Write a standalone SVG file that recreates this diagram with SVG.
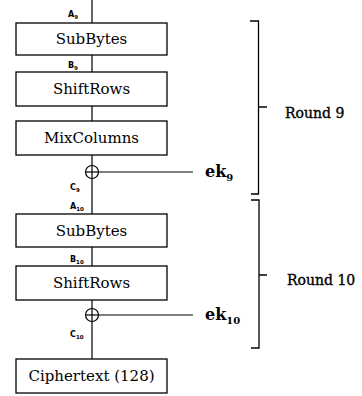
<svg xmlns="http://www.w3.org/2000/svg" width="362" height="396" viewBox="0 0 362 396">
  <style>
    .box { fill: #fff; stroke: #000; stroke-width: 1.3; }
    .lbl { font-family: "DejaVu Serif", "Liberation Serif", serif; font-size: 15px; text-anchor: middle; fill: #000; }
    .sig { font-family: "DejaVu Sans", "Liberation Sans", sans-serif; font-size: 8px; font-weight: bold; fill: #000; }
    .key { font-family: "DejaVu Serif", "Liberation Serif", serif; font-size: 16px; font-weight: bold; fill: #000; }
    .rnd { font-family: "DejaVu Serif", "Liberation Serif", serif; font-size: 14px; fill: #000; stroke: #000; stroke-width: 0.35; }
    .wire { stroke: #000; stroke-width: 1.2; fill: none; }
    .brace { stroke: #000; stroke-width: 1.3; fill: none; }
  </style>
  <rect width="362" height="396" fill="#fff"/>

  <!-- data path and key inputs -->
  <g id="connectors">
    <line class="wire" x1="92" y1="0" x2="92" y2="23"/>
    <line class="wire" x1="92" y1="55" x2="92" y2="72"/>
    <line class="wire" x1="92" y1="106" x2="92" y2="121"/>
    <line class="wire" x1="92" y1="155" x2="92" y2="214"/>
    <line class="wire" x1="92" y1="247" x2="92" y2="266"/>
    <line class="wire" x1="92" y1="300" x2="92" y2="359"/>
    <line class="wire" x1="99" y1="172" x2="193" y2="172"/>
    <line class="wire" x1="99" y1="315" x2="193" y2="315"/>
  </g>

  <g id="signals">
    <text class="sig" x="68" y="17">A<tspan font-size="5.5" dy="1.5">9</tspan></text>
    <text class="sig" x="68" y="68">B<tspan font-size="5.5" dy="1.5">9</tspan></text>
    <text class="sig" x="70" y="190">C<tspan font-size="5.5" dy="1.5">9</tspan></text>
    <text class="sig" x="70" y="209">A<tspan font-size="5.5" dy="1.5">10</tspan></text>
    <text class="sig" x="70" y="262">B<tspan font-size="5.5" dy="1.5">10</tspan></text>
    <text class="sig" x="70" y="337">C<tspan font-size="5.5" dy="1.5">10</tspan></text>
  </g>

  <g id="subbytes9">
    <rect class="box" x="16" y="23" width="151" height="32"/>
    <text class="lbl" x="91.5" y="44">SubBytes</text>
  </g>
  <g id="shiftrows9">
    <rect class="box" x="16" y="72" width="151" height="34"/>
    <text class="lbl" x="91.5" y="94">ShiftRows</text>
  </g>
  <g id="mixcolumns9">
    <rect class="box" x="16" y="121" width="151" height="34"/>
    <text class="lbl" x="91.5" y="143">MixColumns</text>
  </g>
  <g id="xor9">
    <circle cx="92" cy="172" r="6.5" fill="#fff" stroke="#000" stroke-width="1.2"/>
    <line class="wire" x1="85.5" y1="172" x2="98.5" y2="172"/>
    <line class="wire" x1="92" y1="165.5" x2="92" y2="178.5"/>
  </g>
  <g id="ek9">
    <text class="key" x="205" y="177">ek<tspan font-size="10" dy="4">9</tspan></text>
  </g>

  <g id="subbytes10">
    <rect class="box" x="16" y="214" width="151" height="33"/>
    <text class="lbl" x="91.5" y="236">SubBytes</text>
  </g>
  <g id="shiftrows10">
    <rect class="box" x="16" y="266" width="151" height="34"/>
    <text class="lbl" x="91.5" y="288">ShiftRows</text>
  </g>
  <g id="xor10">
    <circle cx="92" cy="315" r="6.5" fill="#fff" stroke="#000" stroke-width="1.2"/>
    <line class="wire" x1="85.5" y1="315" x2="98.5" y2="315"/>
    <line class="wire" x1="92" y1="308.5" x2="92" y2="321.5"/>
  </g>
  <g id="ek10">
    <text class="key" x="205" y="320">ek<tspan font-size="10" dy="4">10</tspan></text>
  </g>

  <g id="ciphertext">
    <rect class="box" x="16" y="359" width="151" height="34"/>
    <text class="lbl" x="91.5" y="381">Ciphertext (128)</text>
  </g>

  <g id="round9">
    <path class="brace" d="M250 21 H258.5 V107 H267 M258.5 107 V194 H251"/>
    <text class="rnd" x="285" y="118">Round 9</text>
  </g>
  <g id="round10">
    <path class="brace" d="M251 200 H259 V275 H267 M259 275 V348 H251"/>
    <text class="rnd" x="287" y="285">Round 10</text>
  </g>
</svg>
